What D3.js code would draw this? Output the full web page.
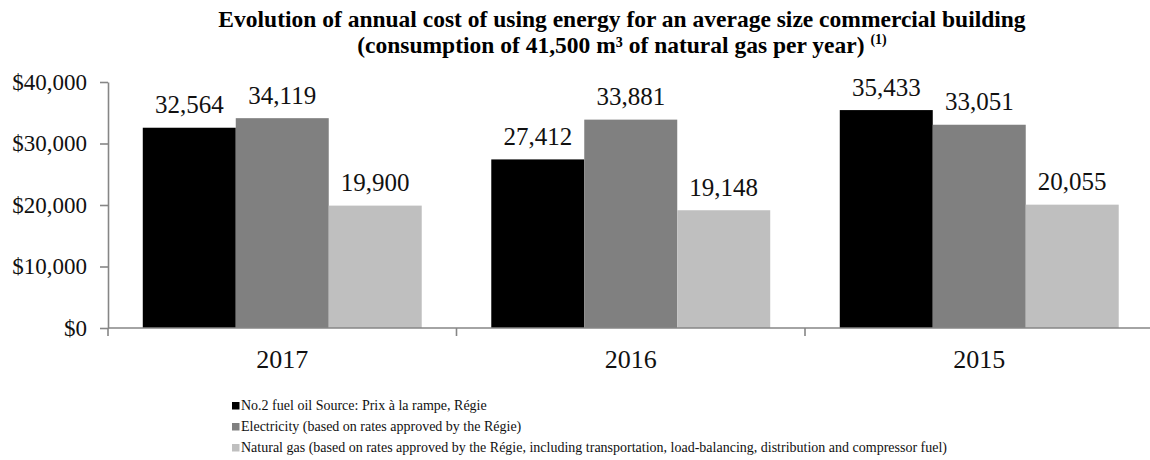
<!DOCTYPE html>
<html>
<head>
<meta charset="utf-8">
<script src="https://cdn.jsdelivr.net/npm/d3@7"></script>
<style>
  html, body { margin: 0; padding: 0; background: #fff; }
  svg { display: block; font-family: "Liberation Serif", "Times New Roman", serif; }
</style>
</head>
<body>
<svg id="chart" width="1150" height="460"></svg>
<script>
// Annual energy cost for an average commercial building, by year and energy source
const years = ["2017", "2016", "2015"];
const seriesNames = [
  "No.2 fuel oil Source: Prix à la rampe, Régie",
  "Electricity (based on rates approved by the Régie)",
  "Natural gas (based on rates approved by the Régie, including transportation, load-balancing, distribution and compressor fuel)"
];
const fuelOil = [32564, 27412, 35433];
const electricity = [34119, 33881, 33051];
const naturalGas = [19900, 19148, 20055];
const yTicks = [0, 10000, 20000, 30000, 40000];
const seriesColors = ["#000000", "#808080", "#bfbfbf"];

const seriesValues = [fuelOil, electricity, naturalGas];
const rows = years.map((y, i) => ({
  year: y,
  values: seriesValues.map((vals, s) => ({ series: s, value: vals[i] }))
}));

const svg = d3.select("#chart");
const axisColor = "#868686";
const serif = "'Liberation Serif', 'Times New Roman', serif";

const x0 = d3.scaleBand().domain(years).range([108, 1153.5]).padding(0);
const x1 = d3.scaleBand().domain([0, 1, 2]).range([0, x0.bandwidth()])
  .paddingInner(0).paddingOuter(0.374);
const y = d3.scaleLinear().domain([0, 40000]).range([328, 82]);

// Title
svg.append("text")
  .attr("x", 622).attr("y", 27)
  .attr("text-anchor", "middle")
  .attr("font-weight", "bold").attr("font-size", 23.5).attr("fill", "#000")
  .text("Evolution of annual cost of using energy for an average size commercial building");
const sub = svg.append("text")
  .attr("x", 622).attr("y", 52.5)
  .attr("text-anchor", "middle")
  .attr("font-weight", "bold").attr("font-size", 23.5).attr("fill", "#000");
sub.append("tspan").text("(consumption of 41,500 m³ of natural gas per year) ");
sub.append("tspan").attr("font-size", 14).attr("dy", -8.5).text("(1)");

// Bars
const groups = svg.append("g").selectAll("g")
  .data(rows).join("g")
  .attr("transform", d => `translate(${x0(d.year)},0)`);

groups.selectAll("rect")
  .data(d => d.values).join("rect")
  .attr("x", d => x1(d.series))
  .attr("width", x1.bandwidth())
  .attr("y", d => y(d.value))
  .attr("height", d => y(0) - y(d.value))
  .attr("fill", d => seriesColors[d.series]);

groups.selectAll("text.val")
  .data(d => d.values).join("text")
  .attr("class", "val")
  .attr("x", d => x1(d.series) + x1.bandwidth() / 2)
  .attr("y", d => y(d.value) - 14.5)
  .attr("text-anchor", "middle")
  .attr("font-size", 25).attr("fill", "#111")
  .text(d => d3.format(",")(d.value));

// Y axis
const yAxis = svg.append("g")
  .attr("transform", "translate(108,0)")
  .call(d3.axisLeft(y).tickValues(yTicks).tickSize(8).tickSizeOuter(0).tickPadding(13)
    .tickFormat(d => "$" + d3.format(",")(d)));
yAxis.select(".domain").attr("stroke", axisColor).attr("stroke-width", 1.6);
yAxis.selectAll(".tick line").attr("stroke", axisColor).attr("stroke-width", 1.6);
yAxis.selectAll(".tick text")
  .attr("font-family", serif)
  .attr("font-size", 23).attr("fill", "#111");

// X axis with ticks at category boundaries
const xAxisG = svg.append("g").attr("transform", `translate(0,${y(0)})`);
xAxisG.append("line")
  .attr("x1", 108).attr("x2", x0.range()[1]).attr("y1", 0).attr("y2", 0)
  .attr("stroke", axisColor).attr("stroke-width", 1.6);
const bounds = years.map(d => x0(d)).concat([x0.range()[1]]);
xAxisG.selectAll("line.b").data(bounds).join("line")
  .attr("class", "b")
  .attr("x1", d => d).attr("x2", d => d).attr("y1", 0).attr("y2", 8)
  .attr("stroke", axisColor).attr("stroke-width", 1.6);
xAxisG.selectAll("text").data(years).join("text")
  .attr("x", d => x0(d) + x0.bandwidth() / 2)
  .attr("y", 40)
  .attr("text-anchor", "middle")
  .attr("font-size", 26).attr("fill", "#111")
  .text(d => d);

// Legend
const legend = svg.append("g").attr("transform", "translate(232,0)");
const li = legend.selectAll("g").data(seriesNames).join("g")
  .attr("transform", (d, i) => `translate(0,${410 + i * 21})`);
li.append("rect")
  .attr("x", 0).attr("y", -8).attr("width", 7.5).attr("height", 7.5)
  .attr("fill", (d, i) => seriesColors[i]);
li.append("text")
  .attr("x", 9).attr("y", 0)
  .attr("font-size", 14).attr("fill", "#111")
  .text(d => d);
</script>
</body>
</html>
